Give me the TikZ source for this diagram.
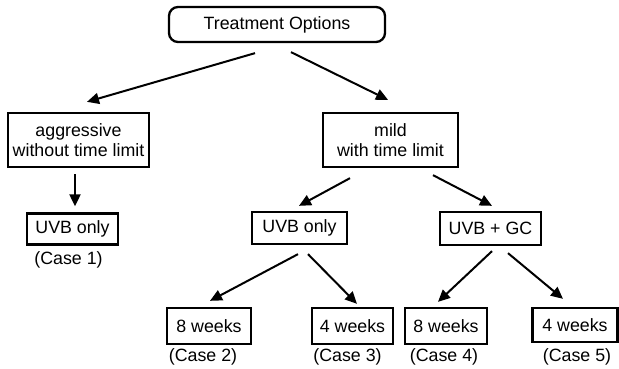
\documentclass[tikz,border=0pt]{standalone}
\usepackage{fontspec}
\setmainfont{Liberation Sans}
\usetikzlibrary{arrows.meta}
\tikzset{
  box/.style={draw, line width=2.3pt, inner sep=0pt, align=center},
  case/.style={inner sep=0pt},
  arr/.style={line width=2pt, -{Triangle[length=12pt,width=11pt]}}
}
\begin{document}
\begin{tikzpicture}[x=1pt, y=1pt, font=\fontsize{17.8}{20}\selectfont]
   \useasboundingbox (0,0) rectangle (619,369);
   \node[box, rounded corners=9pt, minimum width=216, minimum height=35] (top) at (277,344.5) {Treatment Options};
   \node[box, minimum width=141, minimum height=54] (agg) at (78.5,229) {aggressive\\without time limit};
   \node[box, minimum width=135, minimum height=54] (mild) at (390.5,229) {mild\\with time limit};
   \node[box, minimum width=91, minimum height=31] (uvb1) at (72.5,140) {UVB only};
   \node[case] (c1) at (68.5,109) {(Case 1)};
   \node[box, minimum width=95, minimum height=32] (uvb2) at (299.5,141) {UVB only};
   \node[box, minimum width=101, minimum height=33] (gc) at (490.5,140.5) {UVB + GC};
   \node[box, minimum width=84, minimum height=36] (w8a) at (209,43) {8 weeks};
   \node[box, minimum width=81, minimum height=36] (w4a) at (352.5,43) {4 weeks};
   \node[box, minimum width=82, minimum height=36] (w8b) at (446,43) {8 weeks};
   \node[box, minimum width=85, minimum height=34] (w4b) at (575,44) {4 weeks};
   \node[case] (c2) at (203,12) {(Case 2)};
   \node[case] (c3) at (347.5,12) {(Case 3)};
   \node[case] (c4) at (444,12) {(Case 4)};
   \node[case] (c5) at (577,12) {(Case 5)};
   \draw[arr] ([xshift=-22,yshift=-10]top.south) -- ([xshift=8.5,yshift=10]agg.north);
   \draw[arr] ([xshift=14,yshift=-9]top.south) -- ([xshift=-2.5,yshift=12]mild.north);
   \draw[arr] ([xshift=-3.5,yshift=-6]agg.south) -- ([xshift=-3.5,yshift=6]agg.south |- uvb1.north);
   \draw[arr] ([xshift=-40.5,yshift=-10]mild.south) -- ([xshift=-0.5,yshift=5]uvb2.north);
   \draw[arr] ([xshift=42.5,yshift=-7]mild.south) -- ([xshift=1.5,yshift=5]gc.north);
   \draw[arr] ([xshift=-1.5,yshift=-9]uvb2.south) -- ([xshift=1,yshift=6]w8a.north);
   \draw[arr] ([xshift=8.5,yshift=-9]uvb2.south) -- ([xshift=4.5,yshift=3]w4a.north);
   \draw[arr] ([xshift=1.5,yshift=-5]gc.south) -- ([xshift=-8,yshift=5]w8b.north);
   \draw[arr] ([xshift=17.5,yshift=-7]gc.south) -- ([xshift=-12,yshift=8]w4b.north);
\end{tikzpicture}
\end{document}
